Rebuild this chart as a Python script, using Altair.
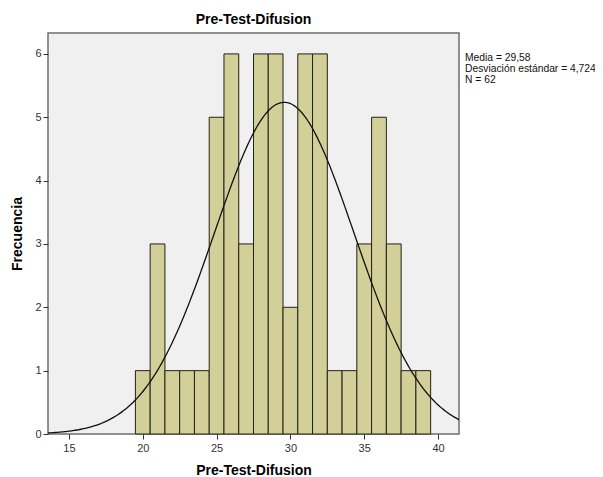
import altair as alt
import pandas as pd
import numpy as np

bin_centers = [20, 21, 22, 23, 24, 25, 26, 27, 28, 29, 30, 31, 32, 33, 34, 35, 36, 37, 38, 39]
counts = [1, 3, 1, 1, 1, 5, 6, 3, 6, 6, 2, 6, 6, 1, 1, 3, 5, 3, 1, 1]
mean_val = 29.58
sd_val = 4.724
n_val = 62
stats_text = ["Media = 29,58", "Desviación estándar = 4,724", "N = 62"]

x_dom = [13.58, 41.42]
y_dom = [0, 6.33]

bars = pd.DataFrame({
    "lo": [c - 0.5 for c in bin_centers],
    "hi": [c + 0.5 for c in bin_centers],
    "count": counts,
})

xs = np.linspace(x_dom[0], x_dom[1], 300)
ys = n_val * 1.0 / (sd_val * np.sqrt(2 * np.pi)) * np.exp(-0.5 * ((xs - mean_val) / sd_val) ** 2)
curve = pd.DataFrame({"x": xs, "y": ys})

xscale = alt.Scale(domain=x_dom, nice=False, zero=False)
yscale = alt.Scale(domain=y_dom, nice=False)

xaxis = alt.Axis(values=[15, 20, 25, 30, 35, 40], title="Pre-Test-Difusion", grid=False,
                 tickSize=5, labelFontSize=11, labelColor="#333333", titleFontSize=14,
                 titleFontWeight="bold", titlePadding=10, tickColor="#333333",
                 domain=False, labelPadding=3, format="d")
yaxis = alt.Axis(values=[0, 1, 2, 3, 4, 5, 6], title="Frecuencia", grid=False,
                 tickSize=5, labelFontSize=11, labelColor="#333333", titleFontSize=14,
                 titleFontWeight="bold", titlePadding=10, tickColor="#333333",
                 domain=False, labelPadding=2, format="d")

bar_layer = alt.Chart(bars).mark_rect(fill="#d3cf98", stroke="#222218", strokeWidth=1).encode(
    x=alt.X("lo:Q", scale=xscale, axis=xaxis),
    x2="hi:Q",
    y=alt.Y("count:Q", scale=yscale, axis=yaxis),
    y2=alt.datum(0),
)

line_layer = alt.Chart(curve).mark_line(color="#111111", strokeWidth=1.3, clip=True).encode(
    x=alt.X("x:Q", scale=xscale),
    y=alt.Y("y:Q", scale=yscale),
)

text_layers = []
for i, t in enumerate(stats_text):
    text_layers.append(
        alt.Chart(pd.DataFrame({"a": [0]})).mark_text(
            align="left", baseline="top", fontSize=10.3,
            font="Liberation Sans", color="#111111", text=t,
        ).encode(
            x=alt.value(417),
            y=alt.value(20 + 11 * i),
        )
    )

chart = alt.layer(bar_layer, line_layer, *text_layers).properties(
    width=411,
    height=401,
    title=alt.Title("Pre-Test-Difusion", fontSize=14, fontWeight="bold", anchor="middle", offset=6),
    autosize=alt.AutoSizeParams(type="none"),
    padding={"left": 40, "top": 25, "right": 136, "bottom": 43},
).configure(
    font="Liberation Sans",
    background="white",
).configure_view(
    fill="#f0f0f0", stroke="#6e6e6e", strokeWidth=1.5,
)

chart.save("out.html", embed_options={"renderer": "svg", "actions": False})
